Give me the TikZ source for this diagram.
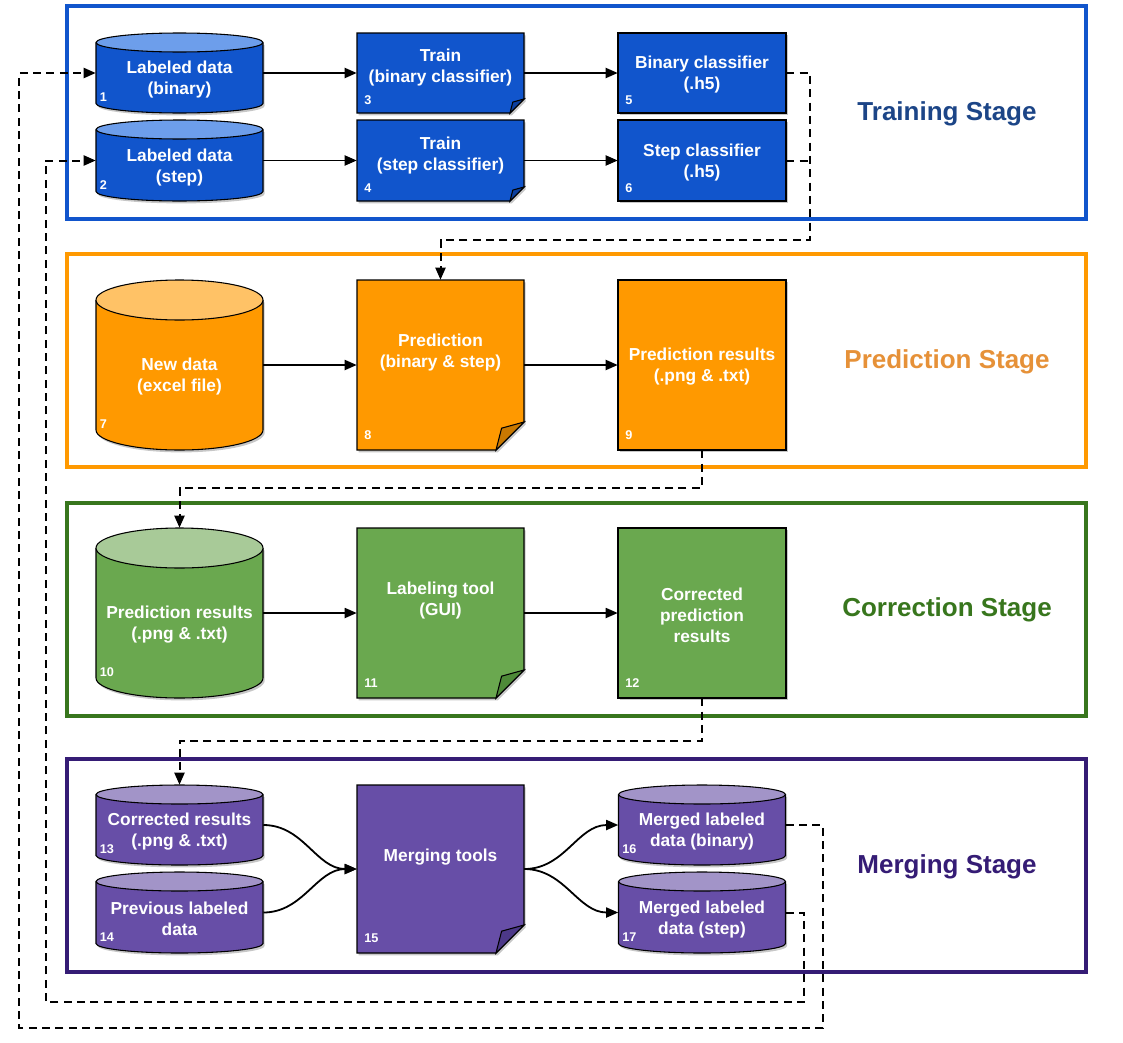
\documentclass[tikz,border=0pt]{standalone}
\usepackage{fontspec}
\setmainfont{Liberation Sans}
\usetikzlibrary{arrows.meta,shadows,fit}
\definecolor{bluef}{HTML}{1155CC}
\definecolor{bluet}{HTML}{6D9EEB}
\definecolor{bluek}{HTML}{0B3F9E}
\definecolor{bluetitle}{HTML}{1C4587}
\definecolor{orangef}{HTML}{FF9900}
\definecolor{oranget}{HTML}{FFC266}
\definecolor{orangek}{HTML}{C97800}
\definecolor{orangetitle}{HTML}{E69138}
\definecolor{greenf}{HTML}{6AA84F}
\definecolor{greent}{HTML}{A8CA98}
\definecolor{greenk}{HTML}{4E8A38}
\definecolor{greenframe}{HTML}{38761D}
\definecolor{purplef}{HTML}{674EA7}
\definecolor{purplet}{HTML}{A294C8}
\definecolor{purplek}{HTML}{4C3888}
\definecolor{purpleframe}{HTML}{351C75}
\tikzset{
  outl/.style={draw=black, line width=0.8pt},
  boxshadow/.style={drop shadow={opacity=0.22, shadow xshift=1.3pt, shadow yshift=-1.8pt, fill=black}},
  lbl/.style={text=white, align=center, inner sep=0pt, font=\bfseries\fontsize{13}{15.75}\selectfont},
  numlbl/.style={text=white, inner sep=0pt, anchor=west, font=\bfseries\fontsize{9.5}{11}\selectfont},
  stagetitle/.style={inner sep=0pt, font=\bfseries\fontsize{19.5}{23}\selectfont},
  frame/.style={line width=2.6pt},
  arr/.style={draw=black, line width=1.35pt, -{Triangle[length=9pt,width=7.5pt]}},
  darr/.style={draw=black, line width=1.5pt, dash pattern=on 6pt off 4pt, -{Triangle[length=9pt,width=7.5pt]}},
  dline/.style={draw=black, line width=1.5pt, dash pattern=on 6pt off 4pt},
  box/.style={inner sep=0pt, draw=none}
}
% cylinder: name, cx, ytop, ybot, ry, colour, text, number
\newcommand\cyl[8]{%
  \fill[boxshadow, fill=#6f] ({#2-83.5},{#3+#5}) -- ({#2-83.5},{#4-#5}) arc[start angle=180,end angle=0,x radius=83.5,y radius=#5] -- ({#2+83.5},{#3+#5}) -- cycle;
  \draw[outl] ({#2-83.5},{#3+#5}) -- ({#2-83.5},{#4-#5}) arc[start angle=180,end angle=0,x radius=83.5,y radius=#5] -- ({#2+83.5},{#3+#5});
  \filldraw[outl, fill=#6t] (#2,{#3+#5}) ellipse[x radius=83.5, y radius=#5];
  \node[box, fit={({#2-83.5},#3) ({#2+83.5},#4)}] (#1) {};
  \node[lbl] (#1-t) at (#2,{(#3+#5+#4)/2+2}) {#7};
  \node[numlbl] (#1-n) at ({#2-80},{#4-#5-6}) {#8};
}
% document: name, x1, y1, x2, y2, fold, colour, text, number
\newcommand\doc[9]{%
  \filldraw[outl, boxshadow, fill=#7f] (#2,#3) -- (#4,#3) -- (#4,{#5-#6}) -- ({#4-#6},#5) -- (#2,#5) -- cycle;
  \filldraw[outl, fill=#7k] (#4,{#5-#6}) -- ({#4-0.8*#6},{#5-0.78*#6}) -- ({#4-#6},#5) -- cycle;
  \node[box, fit={(#2,#3) (#4,#5)}] (#1) {};
  \node[lbl] (#1-t) at ({(#2+#4)/2},{(#3+#5)/2-#6/2+2}) {#8};
  \node[numlbl] (#1-n) at ({#2+7},{#5-10-0.03*(#5-#3)}) {#9};
}
% plain box: name, x1, y1, x2, y2, colour, text, number
\newcommand\plainbox[8]{%
  \filldraw[outl, boxshadow, fill=#6f] (#2,#3) rectangle (#4,#5);
  \node[box, fit={(#2,#3) (#4,#5)}] (#1) {};
  \node[lbl] (#1-t) at ({(#2+#4)/2},{(#3+#5)/2+2}) {#7};
  \node[numlbl] (#1-n) at ({#2+7},{#5-10-0.03*(#5-#3)}) {#8};
}
\begin{document}
\begin{tikzpicture}[x=0.75pt,y=-0.75pt]
\useasboundingbox (0,0) rectangle (1123,1042);
\fill[white] (0,0) rectangle (1123,1042);

% stage frames
\draw[frame, draw=bluef] (67,6) rectangle (1086,219);
\draw[frame, draw=orangef] (67,254) rectangle (1086,467);
\draw[frame, draw=greenframe] (67,503) rectangle (1086,716);
\draw[frame, draw=purpleframe] (67,759) rectangle (1086,972);

\node[stagetitle, text=bluetitle] (t1) at (947,114) {Training Stage};
\node[stagetitle, text=orangetitle] (t2) at (947,362) {Prediction Stage};
\node[stagetitle, text=greenframe] (t3) at (947,610) {Correction Stage};
\node[stagetitle, text=purpleframe] (t4) at (947,867) {Merging Stage};

% training stage
\cyl{c1}{179.5}{33}{113}{9.5}{blue}{Labeled data\\(binary)}{1}
\cyl{c2}{179.5}{120}{201}{9.5}{blue}{Labeled data\\(step)}{2}
\doc{d3}{357}{33}{524}{113}{14}{blue}{Train\\(binary classifier)}{3}
\doc{d4}{357}{120}{524}{201}{14}{blue}{Train\\(step classifier)}{4}
\plainbox{b5}{618}{33}{786}{113}{blue}{Binary classifier\\(.h5)}{5}
\plainbox{b6}{618}{120}{786}{201}{blue}{Step classifier\\(.h5)}{6}

% prediction stage
\cyl{c7}{179.5}{280}{450}{20}{orange}{New data\\(excel file)}{7}
\doc{d8}{357}{280}{524}{450}{28}{orange}{Prediction\\(binary \& step)}{8}
\plainbox{b9}{618}{280}{786}{450}{orange}{Prediction results\\(.png \& .txt)}{9}

% correction stage
\cyl{c10}{179.5}{528}{698}{20}{green}{Prediction results\\(.png \& .txt)}{10}
\doc{d11}{357}{528}{524}{698}{28}{green}{Labeling tool\\(GUI)}{11}
\plainbox{b12}{618}{528}{786}{698}{green}{Corrected\\prediction\\results}{12}

% merging stage
\cyl{c13}{179.5}{785}{865}{9.5}{purple}{Corrected results\\(.png \& .txt)}{13}
\cyl{c14}{179.5}{872}{953}{9.5}{purple}{Previous labeled\\data}{14}
\doc{d15}{357}{785}{524}{953}{28}{purple}{Merging tools}{15}
\cyl{c16}{702}{785}{865}{9.5}{purple}{Merged labeled\\data (binary)}{16}
\cyl{c17}{702}{872}{953}{9.5}{purple}{Merged labeled\\data (step)}{17}

% solid connectors
\draw[arr] (c1.east) -- (c1.east -| d3.west);
\draw[arr] (d3.east) -- (d3.east -| b5.west);
\draw[arr] (c2.east) -- (c2.east -| d4.west);
\draw[arr] (d4.east) -- (d4.east -| b6.west);
\draw[arr] (c7.east) -- (c7.east -| d8.west);
\draw[arr] (d8.east) -- (d8.east -| b9.west);
\draw[arr] (c10.east) -- (c10.east -| d11.west);
\draw[arr] (d11.east) -- (d11.east -| b12.west);
\draw[arr] (c13.east) to[out=0,in=180] (d15.west);
\draw[arr] (c14.east) to[out=0,in=180] (d15.west);
\draw[arr] (d15.east) to[out=0,in=180] (c16.west);
\draw[arr] (d15.east) to[out=0,in=180] (c17.west);

% dashed connectors
\coordinate (j1) at (810,240);
\draw[darr] (b5.east) -| (j1) -| (d8.north);
\draw[dline] (b6.east) -- (b6.east -| j1);
\coordinate (j2) at (702,488);
\draw[darr] (b9.south) -- (j2) -| (c10.north);
\coordinate (j3) at (702,741);
\draw[darr] (b12.south) -- (j3) -| (c13.north);
\coordinate (j4) at (823,1028);
\coordinate (j5) at (19,1028);
\draw[darr] (c16.east) -| (j4) -- (j5) |- (c1.west);
\coordinate (j6) at (804,1002);
\coordinate (j7) at (46,1002);
\draw[darr] (c17.east) -| (j6) -- (j7) |- (c2.west);
\end{tikzpicture}
\end{document}
